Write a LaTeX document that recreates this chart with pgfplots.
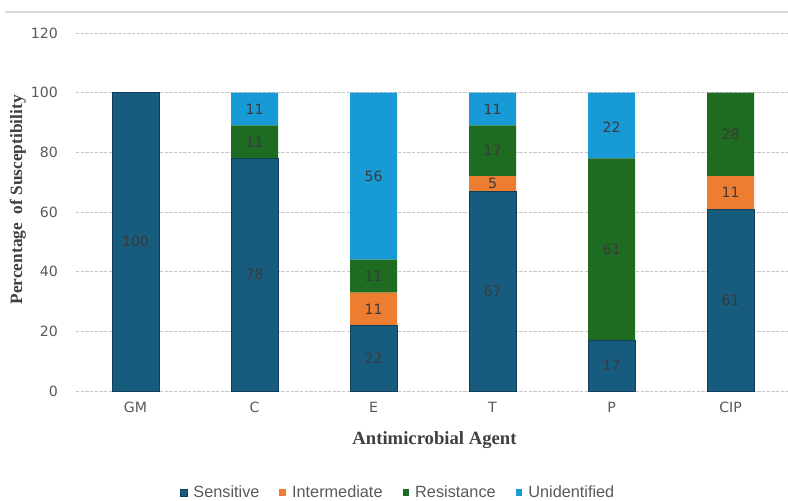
\documentclass[border=0pt]{standalone}
\usepackage{pgfplots}
\pgfplotsset{compat=1.18}
\usepackage{pgfplotstable}
\usepackage{fontspec}
\setmainfont{DejaVu Sans}
\newfontfamily\lib{Liberation Sans}
\newfontfamily\serifb{Liberation Serif}
\definecolor{sens}{HTML}{175C7F}
\definecolor{inter}{HTML}{ED7D31}
\definecolor{resi}{HTML}{1E6B22}
\definecolor{unid}{HTML}{179AD5}
\definecolor{txt}{HTML}{595959}
\definecolor{lab}{HTML}{3A3A3A}

\pgfplotstableread{
x S I R U
0 100 0 0 0
1 78 0 11 11
2 22 11 11 56
3 67 5 17 11
4 17 0 61 22
5 61 11 28 0
}\data

\pgfplotstableread{
x y lab
0 50 100
1 39 78
1 83.5 11
1 94.5 11
2 11 22
2 27.5 11
2 38.5 11
2 72 56
3 33.5 67
3 69.5 5
3 80.5 17
3 94.5 11
4 8.5 17
4 47.5 61
4 88.5 22
5 30.5 61
5 66.5 11
5 86 28
}\labels

\begin{document}
\begin{tikzpicture}
\useasboundingbox (0,0) rectangle (591pt,375pt);
\draw[color=black!15, line width=0.8pt] (3.75pt,366pt) -- (591pt,366pt);
\begin{axis}[
  at={(57pt,81.75pt)}, anchor=south west,
  scale only axis, width=534pt, height=268.5pt,
  ybar stacked, bar width=35.25pt,
  xmin=-0.5, xmax=5.483, ymin=0, ymax=120,
  xtick={0,1,2,3,4,5}, xticklabels={GM,C,E,T,P,CIP},
  ytick={0,20,40,60,80,100,120},
  axis line style={draw=none}, major tick length=0pt,
  ymajorgrids, grid style={color=black!22, dash pattern=on 2.5pt off 1pt, line width=0.6pt},
  /pgf/number format/assume math mode=true,
  tick label style={font=\fontsize{10.6}{12}\selectfont, text=txt},
  yticklabel style={xshift=-10pt},
  xticklabel style={yshift=-5pt},
  xlabel={Antimicrobial Agent},
  ylabel={Percentage\ \ of Susceptibility},
  xlabel style={font=\serifb\bfseries\fontsize{14}{16}\selectfont, text=black!75, at={(axis description cs:0.5035,-0.137)}, anchor=center},
  ylabel style={font=\serifb\bfseries\fontsize{13}{15}\selectfont, text=black!75, at={(axis description cs:-0.0815,0.534)}, anchor=center},
  legend columns=4,
  legend style={at={(axis description cs:0.453,-0.283)}, anchor=center, draw=none, fill=none,
    font=\lib\fontsize{12.2}{14}\selectfont, text=txt,
    /tikz/every odd column/.append style={column sep=2.5pt},
    /tikz/every even column/.append style={column sep=13pt}},
  legend image code/.code={\fill[#1] (0pt,-2.8pt) rectangle (5pt,2.6pt);},
]
\addplot[fill=sens, draw=sens!70!black, line width=0.5pt] table[x=x,y=S]{\data};
\addplot[fill=inter, draw=none] table[x=x,y=I]{\data};
\addplot[fill=resi, draw=none] table[x=x,y=R]{\data};
\addplot[fill=unid, draw=none] table[x=x,y=U]{\data};
\legend{Sensitive,Intermediate,Resistance,Unidentified}
\end{axis}
\begin{axis}[
  at={(57pt,81.75pt)}, anchor=south west,
  scale only axis, width=534pt, height=268.5pt,
  xmin=-0.5, xmax=5.483, ymin=0, ymax=120,
  hide axis,
]
\addplot[only marks, mark=none, nodes near coords, point meta=explicit symbolic,
  nodes near coords align=center,
  every node near coord/.append style={font=\fontsize{10.6}{12}\selectfont, text=lab}]
  table[x=x,y=y,meta=lab]{\labels};
\end{axis}
\end{tikzpicture}
\end{document}
